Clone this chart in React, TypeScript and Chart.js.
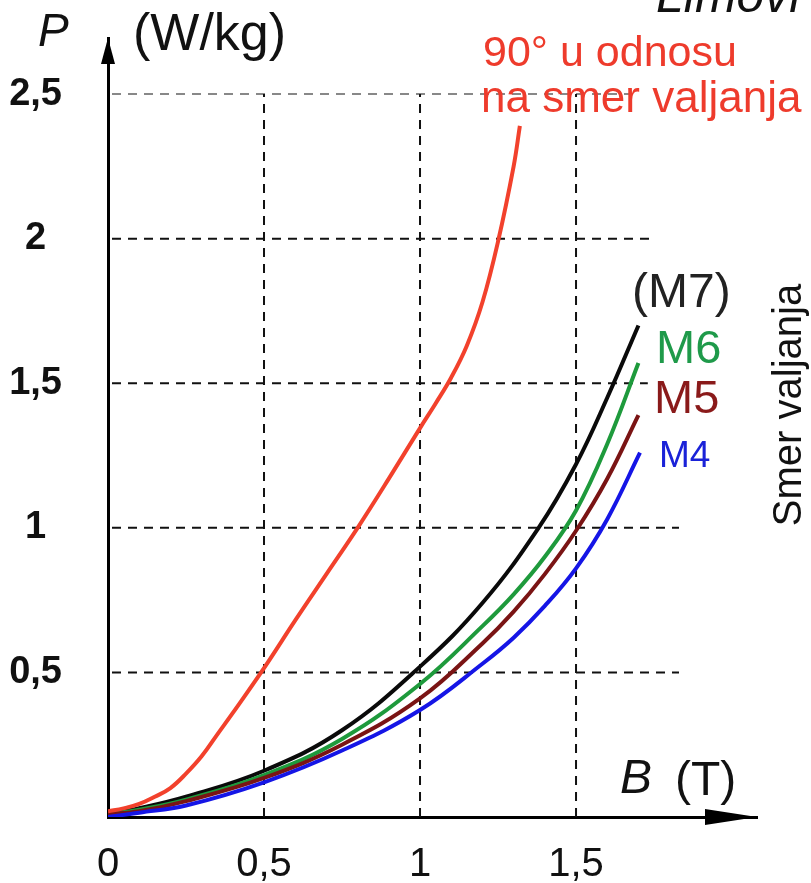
import React, { useEffect, useRef } from "react";
import { Chart, registerables } from "chart.js";

Chart.register(...registerables);

// ---- Data (B in T, P in W/kg) ----
const redB = [0, 0.05, 0.1, 0.15, 0.2, 0.25, 0.3, 0.35, 0.4, 0.5, 0.6, 0.7, 0.8, 0.9, 1.0, 1.05, 1.1, 1.15, 1.2, 1.25, 1.3, 1.32];
const redP = [0.02, 0.03, 0.045, 0.07, 0.1, 0.15, 0.21, 0.285, 0.36, 0.515, 0.68, 0.84, 1.0, 1.17, 1.345, 1.43, 1.52, 1.63, 1.78, 1.99, 2.25, 2.39];

const m7B = [0, 0.1, 0.25, 0.5, 0.75, 1.0, 1.2, 1.38, 1.5, 1.6, 1.7];
const m7P = [0.01, 0.03, 0.07, 0.16, 0.3, 0.52, 0.74, 1.0, 1.22, 1.45, 1.7];

const m6B = [0, 0.1, 0.25, 0.5, 0.75, 1.0, 1.2, 1.3, 1.4, 1.5, 1.6, 1.7];
const m6P = [0.01, 0.025, 0.06, 0.145, 0.27, 0.46, 0.66, 0.77, 0.9, 1.06, 1.29, 1.57];

const m5B = [0, 0.1, 0.25, 0.5, 0.75, 1.0, 1.2, 1.3, 1.4, 1.5, 1.6, 1.7];
const m5P = [0.01, 0.02, 0.055, 0.135, 0.25, 0.41, 0.6, 0.71, 0.84, 0.99, 1.17, 1.39];

const m4B = [0, 0.1, 0.25, 0.5, 0.75, 1.0, 1.2, 1.3, 1.4, 1.5, 1.6, 1.705];
const m4P = [0.0, 0.015, 0.04, 0.12, 0.23, 0.37, 0.53, 0.62, 0.73, 0.86, 1.03, 1.26];

const xTicks = [0, 0.5, 1, 1.5];
const yTicks = [0.5, 1, 1.5, 2, 2.5];

// grid segments: horizontal at P value up to B end; vertical at B value up to P top
const hGridP = [0.5, 1, 1.5, 2, 2.5];
const hGridEnd = [1.83, 1.83, 1.73, 1.75, 1.7];
const vGridB = [0.5, 1, 1.5];
const vGridTop = 2.5;

const FONT = '"Liberation Sans", Arial, sans-serif';

const zip = (xs: number[], ys: number[]) => xs.map((x, i) => ({ x, y: ys[i] }));

const decorPlugin = {
  id: "decor",
  beforeDatasetsDraw(chart: any) {
    const { ctx, scales } = chart;
    const xs = scales.x;
    const ys = scales.y;
    ctx.save();
    ctx.lineWidth = 2;
    ctx.setLineDash([9, 7]);
    hGridP.forEach((p, i) => {
      const y = ys.getPixelForValue(p);
      ctx.strokeStyle = p === 2.5 ? "#888" : "#111";
      ctx.beginPath();
      ctx.moveTo(xs.getPixelForValue(0) + 4, y);
      ctx.lineTo(xs.getPixelForValue(hGridEnd[i]), y);
      ctx.stroke();
    });
    ctx.strokeStyle = "#111";
    vGridB.forEach((b) => {
      const x = xs.getPixelForValue(b);
      ctx.beginPath();
      ctx.moveTo(x, ys.getPixelForValue(0));
      ctx.lineTo(x, ys.getPixelForValue(vGridTop));
      ctx.stroke();
    });
    ctx.restore();
  },
  afterDraw(chart: any) {
    const { ctx, chartArea } = chart;
    const { left, right, top, bottom } = chartArea;
    ctx.save();
    ctx.fillStyle = "#000";
    // y arrow
    ctx.beginPath();
    ctx.moveTo(left, top);
    ctx.lineTo(left - 7, top + 26);
    ctx.lineTo(left + 7, top + 26);
    ctx.closePath();
    ctx.fill();
    // x arrow
    ctx.beginPath();
    ctx.moveTo(right, bottom);
    ctx.lineTo(right - 52, bottom - 8);
    ctx.lineTo(right - 52, bottom + 8);
    ctx.closePath();
    ctx.fill();

    ctx.textBaseline = "middle";
    ctx.textAlign = "left";
    // axis titles
    ctx.fillStyle = "#111";
    ctx.font = `italic 46px ${FONT}`;
    ctx.fillText("P", 38, 33);
    ctx.font = `52px ${FONT}`;
    ctx.fillText("(W/kg)", 133, 36);
    ctx.font = `italic 48px ${FONT}`;
    ctx.fillText("B", 620, 780);
    ctx.font = `48px ${FONT}`;
    ctx.fillText("(T)", 675, 782);

    // Limovi (cut at top)
    ctx.textBaseline = "alphabetic";
    ctx.font = `italic 50px ${FONT}`;
    ctx.fillText("Limovi", 656, 12);

    // red annotation
    ctx.textBaseline = "middle";
    ctx.fillStyle = "#ee3b2c";
    ctx.font = `43px ${FONT}`;
    ctx.fillText("90° u odnosu", 483, 54);
    ctx.font = `44px ${FONT}`;
    ctx.fillText("na smer valjanja", 481, 100);

    // series labels
    ctx.font = `48px ${FONT}`;
    ctx.fillStyle = "#222";
    ctx.fillText("(M7)", 632, 294);
    ctx.font = `47px ${FONT}`;
    ctx.fillStyle = "#1f9a4a";
    ctx.fillText("M6", 656, 350);
    ctx.fillStyle = "#8a1a1a";
    ctx.fillText("M5", 654, 400);
    ctx.font = `37px ${FONT}`;
    ctx.fillStyle = "#1a22d8";
    ctx.fillText("M4", 659, 457);

    // rotated label
    ctx.save();
    ctx.translate(790, 405);
    ctx.rotate(-Math.PI / 2);
    ctx.textAlign = "center";
    ctx.fillStyle = "#111";
    ctx.font = `40px ${FONT}`;
    ctx.fillText("Smer valjanja", 0, 0);
    ctx.restore();
    ctx.restore();
  },
};

const fmt = (v: number) => String(v).replace(".", ",");

export default function App() {
  const ref = useRef<HTMLCanvasElement>(null);
  useEffect(() => {
    if (!ref.current) return;
    const ds = (label: string, d: { x: number; y: number }[], color: string, w = 4) => ({
      label,
      data: d,
      borderColor: color,
      backgroundColor: color,
      borderWidth: w,
      pointRadius: 0,
      fill: false,
      tension: 0.4,
    });
    const chart = new Chart(ref.current, {
      type: "line",
      data: {
        datasets: [
          ds("90° u odnosu na smer valjanja", zip(redB, redP), "#f2412c"),
          ds("M4", zip(m4B, m4P), "#1515e6"),
          ds("M5", zip(m5B, m5P), "#7a1414"),
          ds("M6", zip(m6B, m6P), "#1e9a3c"),
          ds("M7", zip(m7B, m7P), "#0a0a0a"),
        ],
      },
      options: {
        animation: false,
        responsive: false,
        maintainAspectRatio: false,
        layout: { padding: { left: 0, right: 54, top: 38, bottom: 0 } },
        plugins: { legend: { display: false }, tooltip: { enabled: false } },
        scales: {
          x: {
            type: "linear",
            min: 0,
            max: 2.08,
            grid: { display: false },
            border: { display: true, color: "#000", width: 3 },
            afterBuildTicks: (s: any) => {
              s.ticks = xTicks.map((v) => ({ value: v }));
            },
            afterFit: (s: any) => {
              s.height = 66;
              s.paddingLeft = 0;
              s.paddingRight = 0;
            },
            ticks: {
              callback: (v: any) => fmt(Number(v)),
              color: "#111",
              font: { family: FONT, size: 40 },
              padding: 16,
              maxRotation: 0,
              autoSkip: false,
            },
          },
          y: {
            type: "linear",
            min: 0,
            max: 2.694,
            grid: { display: false },
            border: { display: true, color: "#000", width: 3 },
            afterBuildTicks: (s: any) => {
              s.ticks = yTicks.map((v) => ({ value: v }));
            },
            afterFit: (s: any) => {
              s.width = 108;
              s.paddingTop = 0;
              s.paddingBottom = 0;
            },
            ticks: {
              callback: (v: any) => fmt(Number(v)),
              color: "#111",
              font: { family: FONT, size: 38, weight: "bold" },
              padding: 38,
              crossAlign: "center",
              autoSkip: false,
            },
          },
        },
      },
      plugins: [decorPlugin],
    });
    return () => chart.destroy();
  }, []);
  return (
    <div style={{ position: "absolute", left: 0, top: 0, width: 811, height: 883, background: "#fff" }}>
      <canvas ref={ref} width={811} height={883} style={{ width: 811, height: 883, display: "block" }} />
    </div>
  );
}
